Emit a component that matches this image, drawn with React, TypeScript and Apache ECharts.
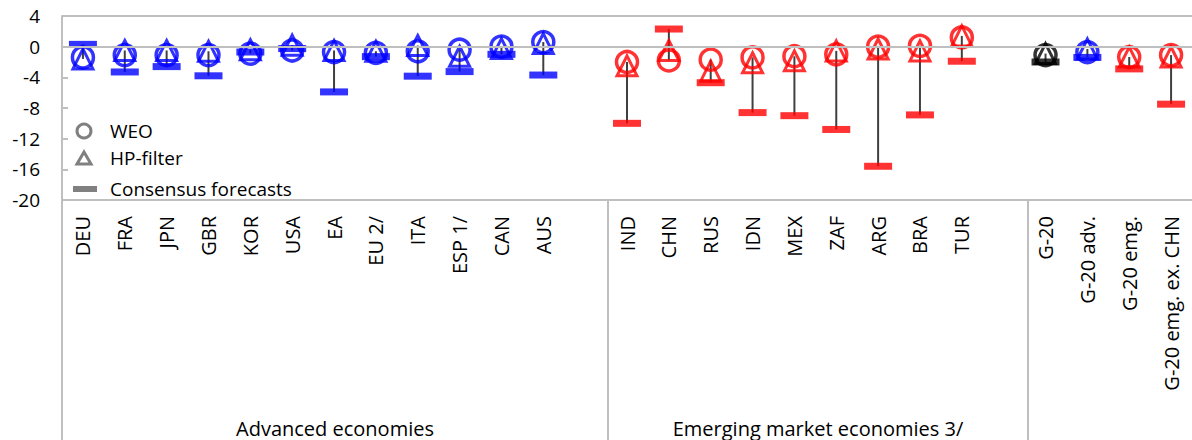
import React, { useEffect, useRef } from "react";
import * as echarts from "echarts";

const categories = [
  "DEU", "FRA", "JPN", "GBR", "KOR", "USA", "EA", "EU 2/", "ITA", "ESP 1/", "CAN", "AUS", " ",
  "IND", "CHN", "RUS", "IDN", "MEX", "ZAF", "ARG", "BRA", "TUR", "  ",
  "G-20", "G-20 adv.", "G-20 emg.", "G-20 emg. ex. CHN",
];
const groupKind = [
  "adv", "adv", "adv", "adv", "adv", "adv", "adv", "adv", "adv", "adv", "adv", "adv", "",
  "emg", "emg", "emg", "emg", "emg", "emg", "emg", "emg", "emg", "",
  "g20", "adv", "emg", "emg",
];
const weo = [
  -1.4, -1.1, -1.1, -1.1, -0.9, -0.5, -0.7, -0.8, -0.6, -0.4, 0.0, 0.6, null,
  -2.0, -1.8, -1.7, -1.4, -1.25, -1.0, 0.0, 0.1, 1.2, null,
  -1.1, -0.7, -1.35, -1.1,
];
const hpFilter = [
  -1.6, -0.5, -0.5, -0.6, -0.4, 0.2, -0.5, -0.6, 0.15, -1.25, -0.25, 0.4, null,
  -2.5, -0.5, -3.2, -2.1, -1.85, -0.55, -0.3, -0.55, 1.4, null,
  -0.9, -0.3, -1.35, -1.35,
];
const consensus = [
  0.3, -3.3, -2.6, -3.8, -0.7, -0.25, -5.9, -1.3, -3.85, -3.25, -1.0, -3.7, null,
  -10.0, 2.3, -4.7, -8.6, -9.0, -10.8, -15.6, -8.9, -1.9, null,
  -2.0, -1.4, -2.9, -7.5,
];
const yTicks = [4, 0, -4, -8, -12, -16, -20];
const groupLabels = ["Advanced economies", "Emerging market economies 3/"];
const groupBounds = [[0, 13], [13, 23], [23, 27]];
const legendNames = ["WEO", "HP-filter", "Consensus forecasts"];

const colorOf: Record<string, string> = { adv: "#0000FF", emg: "#FF0000", g20: "#000000" };

const FONT = "'Open Sans', 'Noto Sans', sans-serif";
const GRID_LEFT = 62;
const GRID_TOP = 16;
const GRID_H = 184;
const SLOT = 42;
const GRID_W = SLOT * categories.length;
const W = 1192;
const H = 440;

export default function App() {
  const ref = useRef<HTMLDivElement>(null);
  useEffect(() => {
    if (!ref.current) return;
    const chart = echarts.init(ref.current, null, { renderer: "svg" });

    const markerData = (vals: (number | null)[]) =>
      vals
        .map((v, i) => (v == null ? null : { value: [i, v], itemStyle: { borderColor: colorOf[groupKind[i]] } }))
        .filter((d) => d !== null);
    const consData = consensus
      .map((v, i) => (v == null ? null : { value: [i, v], itemStyle: { color: colorOf[groupKind[i]] } }))
      .filter((d) => d !== null);
    const hiLo = categories
      .map((_, i) => {
        const vs = [weo[i], hpFilter[i], consensus[i]].filter((v) => v != null) as number[];
        if (!vs.length) return null;
        return [i, Math.max(...vs), Math.min(...vs)];
      })
      .filter((d) => d !== null);

    const bottomY = GRID_TOP + GRID_H;
    const graphic: any[] = [];
    graphic.push({
      type: "line",
      shape: { x1: GRID_LEFT, y1: bottomY, x2: GRID_LEFT, y2: H },
      style: { stroke: "#BFBFBF", lineWidth: 2 },
    });
    [13, 23].forEach((b) => {
      const x = GRID_LEFT + b * SLOT;
      graphic.push({
        type: "line",
        shape: { x1: x, y1: bottomY, x2: x, y2: H },
        style: { stroke: "#BFBFBF", lineWidth: 2 },
      });
    });
    groupLabels.forEach((t, gi) => {
      const [a, b] = groupBounds[gi];
      const cx = GRID_LEFT + ((a + b) / 2) * SLOT;
      graphic.push({
        type: "text",
        x: cx,
        y: 428,
        style: { text: t, font: `20px ${FONT}`, fill: "#000", align: "center", verticalAlign: "middle" },
      });
    });
    const lx = 84;
    const ly = [131, 158, 189];
    graphic.push({
      type: "circle",
      shape: { cx: lx, cy: ly[0], r: 7 },
      style: { fill: "none", stroke: "#808080", lineWidth: 3 },
    });
    graphic.push({
      type: "polygon",
      shape: { points: [[lx, ly[1] - 6], [lx + 7, ly[1] + 6], [lx - 7, ly[1] + 6]] },
      style: { fill: "none", stroke: "#808080", lineWidth: 3 },
    });
    graphic.push({
      type: "rect",
      shape: { x: lx - 11, y: ly[2] - 3, width: 24, height: 6 },
      style: { fill: "#808080" },
    });
    legendNames.forEach((n, i) => {
      graphic.push({
        type: "text",
        x: 110,
        y: ly[i],
        style: { text: n, font: `19px ${FONT}`, fill: "#000", verticalAlign: "middle" },
      });
    });

    chart.setOption({
      animation: false,
      grid: { left: GRID_LEFT, top: GRID_TOP, width: GRID_W, height: GRID_H, containLabel: false },
      xAxis: {
        type: "category",
        data: categories,
        boundaryGap: true,
        axisLine: { show: true, onZero: false, lineStyle: { color: "#BFBFBF", width: 2 } },
        axisTick: { show: false },
        axisLabel: {
          rotate: 90,
          interval: 0,
          margin: 16,
          fontSize: 20,
          fontFamily: FONT,
          color: "#000",
        },
        splitLine: { show: false },
      },
      yAxis: {
        type: "value",
        min: -20,
        max: 4,
        interval: 4,
        axisLine: { show: true, lineStyle: { color: "#BFBFBF", width: 2 } },
        axisTick: { show: true, inside: true, length: 6, lineStyle: { color: "#BFBFBF", width: 2 } },
        axisLabel: {
          margin: 22,
          fontSize: 19,
          fontFamily: FONT,
          color: "#000",
          formatter: (v: number) => (yTicks.includes(v) ? String(v) : ""),
        },
        splitLine: { show: false },
      },
      graphic,
      series: [
        {
          type: "custom",
          name: "high-low",
          z: 1,
          silent: true,
          encode: { x: 0, y: [1, 2] },
          data: hiLo,
          renderItem: (params: any, api: any) => {
            const x = api.value(0);
            const p1 = api.coord([x, api.value(1)]);
            const p2 = api.coord([x, api.value(2)]);
            return {
              type: "line",
              shape: { x1: p1[0], y1: p1[1], x2: p2[0], y2: p2[1] },
              style: { stroke: "#404040", lineWidth: 2 },
            };
          },
          markLine: {
            silent: true,
            symbol: "none",
            label: { show: false },
            lineStyle: { color: "#BFBFBF", width: 2, type: "solid" },
            data: [{ yAxis: 0 }, { yAxis: 4 }],
          },
        },
        {
          type: "scatter",
          name: "WEO",
          z: 3,
          symbol: "circle",
          symbolSize: 21,
          itemStyle: { color: "rgba(0,0,0,0)", borderWidth: 3.5 },
          data: markerData(weo),
        },
        {
          type: "scatter",
          name: "HP-filter",
          z: 3,
          symbol: "triangle",
          symbolSize: [20, 20],
          itemStyle: { color: "rgba(0,0,0,0)", borderWidth: 3 },
          data: markerData(hpFilter),
        },
        {
          type: "scatter",
          name: "Consensus forecasts",
          z: 4,
          symbol: "rect",
          symbolSize: [28, 7],
          data: consData,
        },
      ],
    });
    return () => chart.dispose();
  }, []);
  return (
    <div
      ref={ref}
      style={{ position: "absolute", left: 0, top: 0, width: W, height: H, background: "#fff" }}
    />
  );
}
